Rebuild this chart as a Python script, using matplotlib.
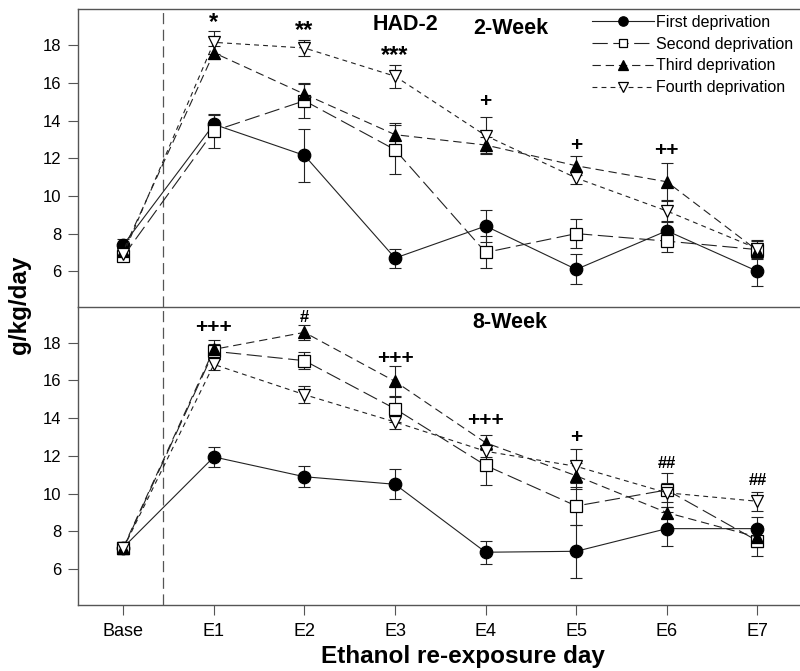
import matplotlib
matplotlib.use("Agg")
import matplotlib.pyplot as plt
from matplotlib import font_manager
import numpy as np

plt.rcParams['font.family'] = ['Liberation Sans', 'DejaVu Sans']
plt.rcParams['lines.scale_dashes'] = False

x_labels = ['Base', 'E1', 'E2', 'E3', 'E4', 'E5', 'E6', 'E7']
series_names = ['First deprivation', 'Second deprivation', 'Third deprivation', 'Fourth deprivation']

# 2-week panel
wk2_first = [7.4, 13.8, 12.15, 6.7, 8.4, 6.1, 8.15, 6.0]
wk2_first_err = [0.3, 0.5, 1.4, 0.5, 0.85, 0.8, 0.5, 0.8]
wk2_second = [6.8, 13.45, 15.05, 12.45, 7.0, 8.0, 7.6, 7.15]
wk2_second_err = [0.2, 0.9, 0.9, 1.3, 0.85, 0.75, 0.6, 0.5]
wk2_third = [7.1, 17.6, 15.4, 13.25, 12.7, 11.6, 10.75, 7.1]
wk2_third_err = [0.2, 0.35, 0.6, 0.6, 0.4, 0.5, 1.0, 0.4]
wk2_fourth = [6.9, 18.15, 17.85, 16.35, 13.2, 10.95, 9.2, 7.2]
wk2_fourth_err = [0.2, 0.6, 0.4, 0.6, 1.0, 0.3, 0.6, 0.4]

# 8-week panel
wk8_first = [7.15, 11.95, 10.9, 10.5, 6.9, 6.95, 8.15, 8.15]
wk8_first_err = [0.3, 0.55, 0.55, 0.8, 0.6, 1.4, 0.9, 0.6]
wk8_second = [7.1, 17.55, 17.05, 14.5, 11.5, 9.35, 10.2, 7.5]
wk8_second_err = [0.3, 0.4, 0.45, 0.7, 1.05, 1.0, 0.9, 0.8]
wk8_third = [7.15, 17.65, 18.55, 15.95, 12.7, 10.95, 9.0, 7.7]
wk8_third_err = [0.3, 0.5, 0.4, 0.8, 0.4, 0.7, 0.3, 0.5]
wk8_fourth = [7.1, 16.85, 15.25, 13.8, 12.25, 11.45, 10.05, 9.6]
wk8_fourth_err = [0.3, 0.3, 0.45, 0.35, 0.3, 0.9, 0.5, 0.5]

wk2_marks = ['*', '**', '***', '+', '+', '++']
wk2_mark_x = [1, 2, 3, 4, 5, 6]
wk2_mark_y = [19.2, 18.8, 17.45, 15.0, 12.65, 12.4]
wk8_marks = ['+++', '#', '+++', '+++', '+', '##', '##']
wk8_mark_x = [1, 2, 3, 4, 5, 6, 7]
wk8_mark_y = [18.8, 19.35, 17.15, 13.9, 13.0, 11.6, 10.7]

styles = [
    dict(marker='o', mfc='black', mec='black', ms=9, dashes=None),
    dict(marker='s', mfc='white', mec='black', ms=8, dashes=(11, 4)),
    dict(marker='^', mfc='black', mec='black', ms=9, dashes=(6, 3.5)),
    dict(marker='v', mfc='white', mec='black', ms=9, dashes=(3.5, 3)),
]
LC = '#222222'
SP = '#555555'

avail = {f.name for f in font_manager.fontManager.ttflist}
narrow = 'Liberation Sans Narrow' if 'Liberation Sans Narrow' in avail else 'Liberation Sans'

fig = plt.figure(figsize=(8, 6.71), dpi=100)
ax1 = fig.add_axes([0.0975, 0.5432, 0.9025, 0.4434])
ax2 = fig.add_axes([0.0975, 0.0991, 0.9025, 0.4441])

x = np.arange(len(x_labels))


def draw(ax, data, errs):
    handles = []
    for vals, err, st in zip(data, errs, styles):
        ax.errorbar(x, vals, yerr=err, fmt='none', ecolor=LC, elinewidth=0.8,
                    capsize=4, capthick=0.8, zorder=2)
        kw = dict(color=LC, lw=0.8, marker=st['marker'], mfc=st['mfc'],
                  mec=st['mec'], ms=st['ms'], mew=0.9, zorder=3)
        if st['dashes'] is None:
            h, = ax.plot(x, vals, '-', **kw)
        else:
            h, = ax.plot(x, vals, '--', dashes=st['dashes'], **kw)
        handles.append(h)
    ax.axvline(0.44, color=SP, lw=0.9, dashes=(8, 4), zorder=1)
    ax.set_xlim(-0.5, 7.47)
    ax.set_ylim(4.13, 19.92)
    ax.set_yticks([6, 8, 10, 12, 14, 16, 18])
    ax.spines['right'].set_visible(False)
    for s in ['left', 'bottom', 'top']:
        ax.spines[s].set_color(SP)
        ax.spines[s].set_linewidth(1.0)
    ax.tick_params(axis='y', direction='out', length=7, width=0.8, color=SP,
                   labelsize=12, pad=5)
    return handles


handles = draw(ax1, [wk2_first, wk2_second, wk2_third, wk2_fourth],
               [wk2_first_err, wk2_second_err, wk2_third_err, wk2_fourth_err])
draw(ax2, [wk8_first, wk8_second, wk8_third, wk8_fourth],
     [wk8_first_err, wk8_second_err, wk8_third_err, wk8_fourth_err])

ax1.spines['bottom'].set_visible(False)
ax1.set_xticks([])
ax2.set_xticks(x)
ax2.set_xticklabels(x_labels, family=[narrow, 'DejaVu Sans'])
ax2.tick_params(axis='x', direction='out', length=7.5, width=0.8, color=SP,
                labelsize=13, pad=6)

for t, xx, yy in zip(wk2_marks, wk2_mark_x, wk2_mark_y):
    ax1.text(xx, yy, t, ha='center', va='center', fontsize=17 if '*' in t else 15,
             fontweight='bold')
for t, xx, yy in zip(wk8_marks, wk8_mark_x, wk8_mark_y):
    ax2.text(xx, yy, t, ha='center', va='center', fontsize=12 if '#' in t else 15,
             fontweight='bold')

fig.text(405 / 800, 1 - 24 / 671, 'HAD-2', ha='center', va='center', fontsize=15.5, fontweight='bold')
fig.text(511 / 800, 1 - 28 / 671, '2-Week', ha='center', va='center', fontsize=15.5, fontweight='bold')
fig.text(510 / 800, 1 - 322 / 671, '8-Week', ha='center', va='center', fontsize=15.5, fontweight='bold')

fig.text(463 / 800, 1 - 657 / 671, 'Ethanol re-exposure day', ha='center', va='center',
         fontsize=17.5, fontweight='bold')
fig.text(20 / 800, 1 - 305 / 671, 'g/kg/day', ha='center', va='center', rotation=90,
         fontsize=17.5, fontweight='bold')

leg = fig.legend(handles, series_names, loc='upper left', bbox_to_anchor=(592 / 800, 1 - 15 / 671),
                 frameon=False, fontsize=11.5, handlelength=3.9, handletextpad=0.1,
                 labelspacing=0.42, borderpad=0, borderaxespad=0, markerscale=0.75)

fig.savefig('out.png', dpi=100)
